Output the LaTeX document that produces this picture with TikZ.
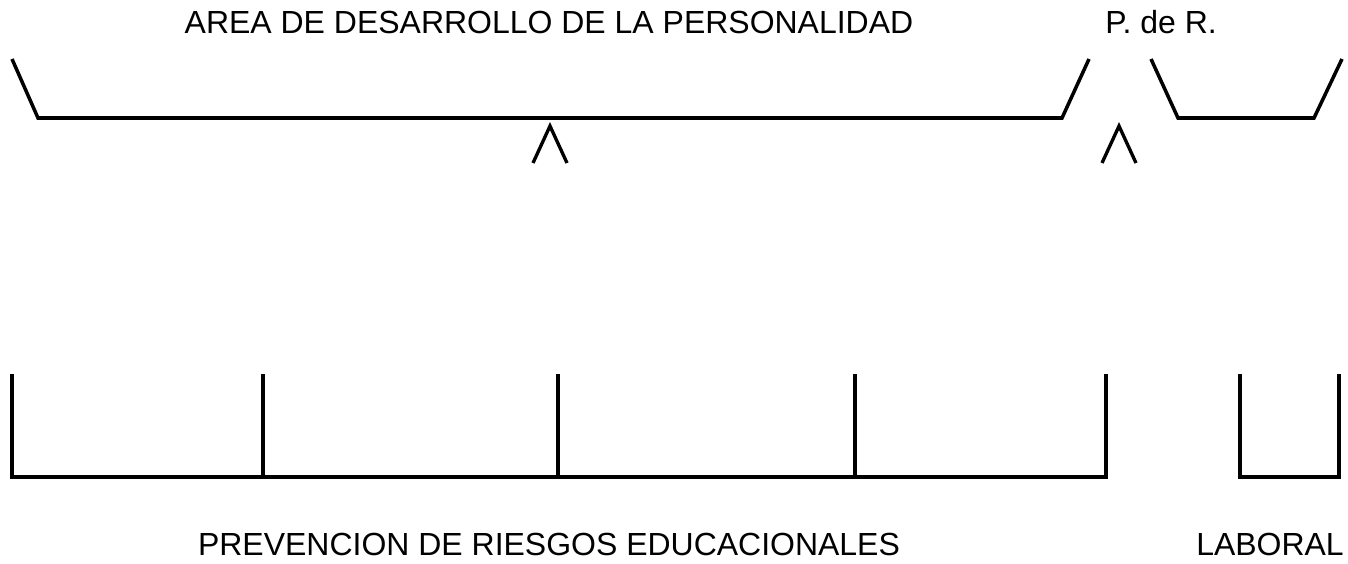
\documentclass[tikz,border=0pt]{standalone}
\usepackage{fontspec}
\setmainfont{Liberation Sans}
\usetikzlibrary{calc}

\begin{document}
\begin{tikzpicture}[x=0.02cm, y=-0.02cm]

	\useasboundingbox (0,0) rectangle (1348,564);
	\tikzset{
		brace/.style = {line width = 2pt, line join = miter},
		caret/.style = {line width = 1.9pt, line join = miter},
		label/.style = {inner sep = 0pt, anchor = base, font = \fontsize{18.2pt}{22pt}\selectfont}
	}

	% heights of the upper braces
	\def \braceTop {59};
	\def \braceLow {118};

	% upper labels
	\node [label] (areaText) at (549,34) {AREA DE DESARROLLO DE LA PERSONALIDAD};
	\node [label, anchor = base west] (pdrText) at (1105,34) {P. de R.};

	% upper braces
	\draw [brace] (12,\braceTop) -- (38,\braceLow) -- (1062,\braceLow) -- (1089,\braceTop);
	\draw [brace] (1151,\braceTop) -- (1178,\braceLow) -- (1314,\braceLow) -- (1342,\braceTop);

	% carets under the braces
	\draw [caret] (533,163) -- (550,126) -- (567,163);
	\draw [caret] (1102,163) -- (1119,126) -- (1136,163);

	% lower brackets
	\def \tickTop {374};
	\def \tickLow {477};
	\draw [brace] (12,\tickTop) -- (12,\tickLow) -- (1106,\tickLow) -- (1106,\tickTop);
	\foreach \x in {263, 558, 855}
		\draw [brace] (\x,\tickTop) -- (\x,\tickLow);
	\draw [brace] (1240,\tickTop) -- (1240,\tickLow) -- (1339,\tickLow) -- (1339,\tickTop);

	% lower labels
	\node [label] (prevText) at (549,555) {PREVENCION DE RIESGOS EDUCACIONALES};
	\node [label] (labText) at (1270,555) {LABORAL};

\end{tikzpicture}
\end{document}
